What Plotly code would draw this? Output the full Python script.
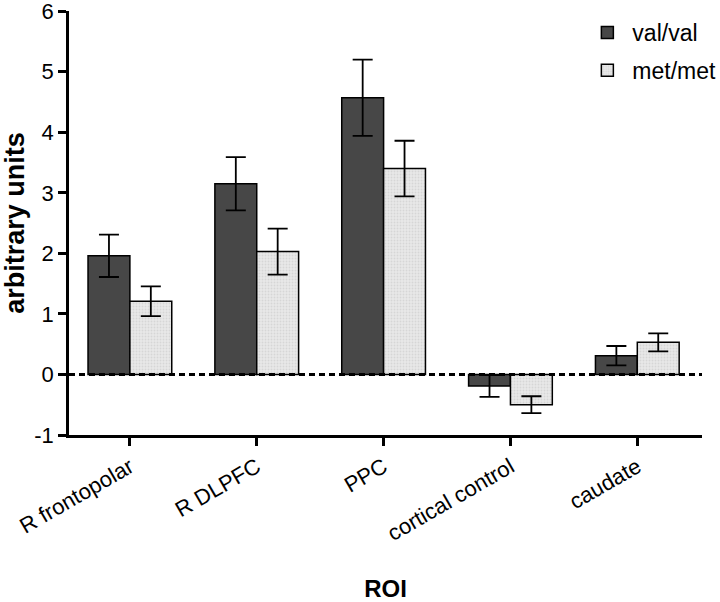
import plotly.graph_objects as go

categories = ["R frontopolar", "R DLPFC", "PPC", "cortical control", "caudate"]
valval_mean = [1.96, 3.15, 4.57, -0.19, 0.31]
valval_err = [0.35, 0.44, 0.63, 0.18, 0.16]
metmet_mean = [1.21, 2.03, 3.40, -0.50, 0.53]
metmet_err = [0.245, 0.38, 0.46, 0.14, 0.15]
y_tickvals = [-1, 0, 1, 2, 3, 4, 5, 6]
y_ticktext = ["-1", "0", "1", "2", "3", "4", "5", "6"]

FONT = "Liberation Sans, Arial, sans-serif"

fig = go.Figure()
fig.add_trace(go.Bar(
    name="val/val", x=categories, y=valval_mean,
    error_y=dict(type="data", array=valval_err, color="black", thickness=1.8, width=10),
    marker=dict(color="#474747", line=dict(color="black", width=1.5)),
    legendgroup="a",
))
fig.add_trace(go.Bar(
    name="met/met", x=categories, y=metmet_mean,
    error_y=dict(type="data", array=metmet_err, color="black", thickness=1.8, width=10),
    marker=dict(color="#e6e6e6", line=dict(color="black", width=1.5),
                pattern=dict(shape=".", fgcolor="#c4c4c4", bgcolor="#e8e8e8", size=3, solidity=0.3)),
    legendgroup="b",
))

fig.add_shape(type="line", xref="paper", yref="y", x0=0, x1=1, y0=0, y1=0,
              line=dict(color="black", width=3, dash="6px,4px"), layer="above")

fig.update_layout(
    width=720, height=602,
    margin=dict(l=69, r=18, t=11, b=167, autoexpand=False),
    paper_bgcolor="white", plot_bgcolor="white",
    barmode="group", bargap=0.34, bargroupgap=0,
    font=dict(family=FONT, size=22, color="black"),
    showlegend=True,
    legend=dict(x=0.811, y=1.0, xanchor="left", yanchor="top",
                font=dict(size=23, family=FONT), tracegroupgap=5,
                bgcolor="rgba(0,0,0,0)", itemwidth=40),
    xaxis=dict(range=[-0.48, 4.51], showline=True, linecolor="black", linewidth=2.5,
               ticks="outside", ticklen=8, tickwidth=2.5, tickcolor="black",
               tickangle=-30, tickfont=dict(size=22, family=FONT), automargin=False,
               title=dict(text="<b>ROI</b>", font=dict(size=24, family=FONT), standoff=47),
               showgrid=False, zeroline=False),
    yaxis=dict(range=[-1, 6.003], tickvals=y_tickvals, ticktext=y_ticktext,
               showline=True, linecolor="black", linewidth=2.5,
               ticks="outside", ticklen=8, tickwidth=2.5, tickcolor="black",
               tickfont=dict(size=22, family=FONT), automargin=False,
               ticklabeloverflow="allow",
               title=dict(text="<b>arbitrary units</b>", font=dict(size=27, family=FONT), standoff=8),
               showgrid=False, zeroline=False),
)

fig.write_html("out.html", config={"displayModeBar": False},
               post_script="document.body.style.margin='0';")
